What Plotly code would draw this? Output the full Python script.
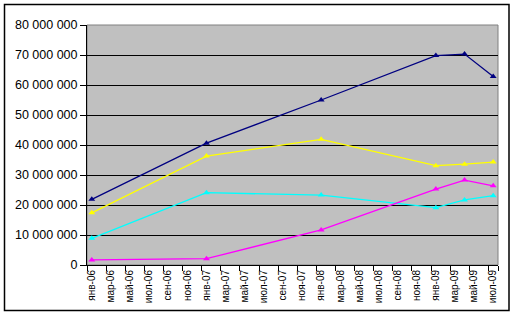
import plotly.graph_objects as go

# data
dates = ["2006-01", "2007-01", "2008-01", "2009-01", "2009-04", "2009-07"]
navy = [21.9e6, 40.6e6, 55.0e6, 69.8e6, 70.3e6, 62.8e6]
yellow = [17.4e6, 36.3e6, 41.9e6, 33.1e6, 33.6e6, 34.3e6]
cyan = [8.9e6, 24.1e6, 23.3e6, 19.1e6, 21.7e6, 23.1e6]
magenta = [1.7e6, 2.1e6, 11.7e6, 25.3e6, 28.3e6, 26.4e6]

month_names = ["янв", "фев", "мар", "апр", "май", "июн", "июл", "авг", "сен", "окт", "ноя", "дек"]
y_ticks = [0, 10e6, 20e6, 30e6, 40e6, 50e6, 60e6, 70e6, 80e6]
y_tick_text = ["0", "10 000 000", "20 000 000", "30 000 000", "40 000 000",
               "50 000 000", "60 000 000", "70 000 000", "80 000 000"]

def midx(s):
    y, m = s.split("-")
    return (int(y) - 2006) * 12 + int(m) - 1

xs = [midx(d) for d in dates]
n_months = 43
label_idx = list(range(0, n_months, 2))
label_text = [f"{month_names[i % 12]}-{(6 + i // 12):02d}" for i in label_idx]

fig = go.Figure()
for vals, col in [(navy, "#000080"), (yellow, "#FFFF00"), (cyan, "#00FFFF"), (magenta, "#FF00FF")]:
    fig.add_trace(go.Scatter(x=xs, y=vals, mode="lines+markers",
                             line=dict(color=col, width=1.3),
                             marker=dict(symbol="triangle-up", size=6, color=col),
                             showlegend=False, hoverinfo="skip"))

fig.update_layout(
    width=515, height=316,
    margin=dict(l=87, r=17, t=25, b=51),
    paper_bgcolor="white",
    plot_bgcolor="#C0C0C0",
    font=dict(family="Liberation Sans, Arial, sans-serif", color="black"),
    xaxis=dict(
        range=[-0.5, n_months - 0.5],
        tickmode="array", tickvals=label_idx, ticktext=label_text,
        tickangle=-90, tickfont=dict(size=10),
        ticks="", showgrid=False, zeroline=False,
        showline=True, linecolor="black", linewidth=1,
        minor=dict(tickmode="array", tickvals=[i - 0.5 for i in label_idx] + [n_months - 0.5],
                   ticks="outside", ticklen=5, tickcolor="black", showgrid=False),
        mirror=False,
    ),
    yaxis=dict(
        range=[0, 80e6],
        tickmode="array", tickvals=y_ticks, ticktext=y_tick_text,
        tickfont=dict(size=12.5),
        ticks="outside", ticklen=6, tickcolor="black",
        showgrid=True, gridcolor="black", gridwidth=1,
        zeroline=False,
        showline=True, linecolor="black", linewidth=1,
    ),
    shapes=[
        dict(type="rect", xref="paper", yref="paper", x0=0, x1=1, y0=0, y1=1,
             line=dict(color="#808080", width=1), fillcolor="rgba(0,0,0,0)", layer="below"),
        dict(type="rect", xref="paper", yref="paper",
             x0=(4.5 - 87) / 411, x1=(509 - 87) / 411,
             y0=(265 - 310.5) / 240, y1=(265 - 4.5) / 240,
             line=dict(color="black", width=1.5), fillcolor="rgba(0,0,0,0)"),
    ],
)

fig.write_html("out.html")
